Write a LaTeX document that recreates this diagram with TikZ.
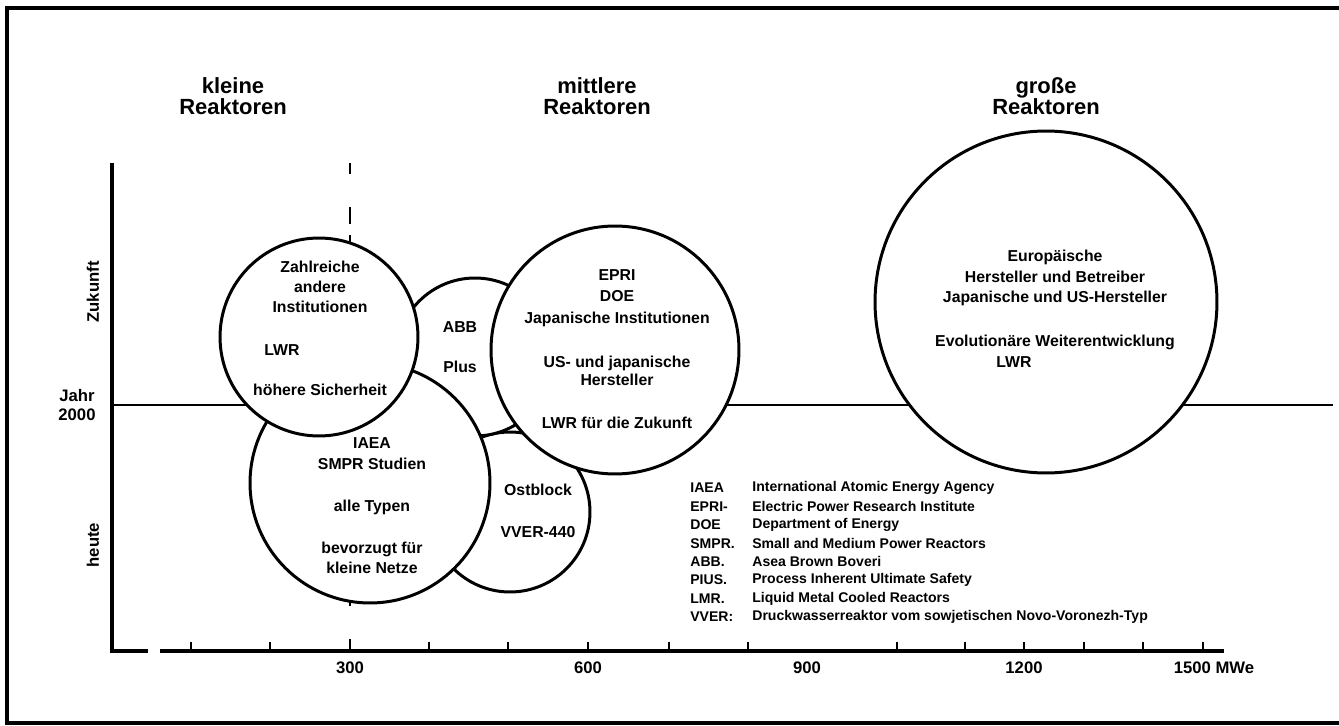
\documentclass[tikz,border=0pt]{standalone}
\usepackage{fontspec}
\setmainfont{Liberation Sans}
\usepackage{tikz}

\tikzset{
  reaktor/.style={circle, draw, fill=white, line width=1.7pt, inner sep=0pt},
  kreistext/.style={font=\bfseries\fontsize{9}{11.5}\selectfont, align=center, inner sep=0pt},
  kopf/.style={font=\bfseries\fontsize{12.5}{12}\selectfont, align=center, inner sep=0pt},
  achstext/.style={font=\bfseries\fontsize{9.5}{11}\selectfont, align=center, inner sep=0pt},
  legende/.style={font=\bfseries\fontsize{8}{9}\selectfont, anchor=west, inner sep=0pt},
}

\begin{document}
\begin{tikzpicture}[x=0.02cm, y=-0.02cm]
     \useasboundingbox (0,0) rectangle (1339,726);

     % Rahmen
     \coordinate (ro) at (1339,8);
     \coordinate (lo) at (7,8);
     \coordinate (lu) at (7,723);
     \coordinate (ru) at (1339,723);
     \draw[line width=2.2pt] (ro) -- (lo) -- (lu) -- (ru);

     % Achsen
     \coordinate (O) at (112,651);
     \coordinate (yoben) at (112,163);
     \coordinate (bruch1) at (148,651);
     \coordinate (bruch2) at (160,651);
     \coordinate (xende) at (1224,651);
     \draw[line width=2pt] (yoben) -- (O) -- (bruch1);
     \draw[line width=2pt] (bruch2) -- (xende);
     \foreach \x in {191,270,350,429,508,588,669,748,897,965,1024,1084,1143,1203}
        \draw[line width=1.4pt] (\x,651) -- ++(0,-9);

     % Jahr 2000 und 300 MWe
     \coordinate (j0) at (112,405);
     \coordinate (j1) at (1333,405);
     \draw[line width=1.4pt] (j0) -- (j1);
     \coordinate (m0) at (350,163);
     \coordinate (m1) at (350,651);
     \draw[line width=1pt, dash pattern=on 6pt off 19pt on 10pt off 6pt] (m0) -- (m1);

     % Kreise
     \node[reaktor, minimum size=3.2cm] (ost) at (510,512) {};
     \node[reaktor, minimum size=3.16cm] (abb) at (475,357) {};
     \node[reaktor, minimum size=4.8cm] (iaea) at (370,483) {};
     \node[reaktor, minimum size=3.96cm] (zahl) at (319,337) {};
     \node[reaktor, minimum size=4.96cm] (epri) at (615,350) {};
     \node[reaktor, minimum size=6.84cm] (gross) at (1046,302) {};

     % Texte in den Kreisen
     \node[kreistext, font=\bfseries\fontsize{9}{11.3}\selectfont] (t1) at (320,287) {Zahlreiche\\andere\\Institutionen};
     \node[kreistext] (t2) at (282,350) {LWR};
     \node[kreistext] (t3) at (320,390) {höhere Sicherheit};
     \node[kreistext] (t4) at (460,327) {ABB};
     \node[kreistext] (t5) at (460,367) {Plus};
     \node[kreistext, font=\bfseries\fontsize{9}{12.2}\selectfont] (t6) at (617,298) {EPRI\\DOE\\Japanische Institutionen};
     \node[kreistext, font=\bfseries\fontsize{9}{10.2}\selectfont] (t7) at (617,371) {US- und japanische\\Hersteller};
     \node[kreistext] (t8) at (617,423) {LWR für die Zukunft};
     \node[kreistext, font=\bfseries\fontsize{9}{11.9}\selectfont] (t9) at (1055,278) {Europäische\\Hersteller und Betreiber\\Japanische und US-Hersteller};
     \node[kreistext] (t10) at (1055,342) {Evolutionäre Weiterentwicklung};
     \node[kreistext] (t11) at (1014,362) {LWR};
     \node[kreistext, font=\bfseries\fontsize{9}{11.9}\selectfont] (t12) at (372,454) {IAEA\\SMPR Studien};
     \node[kreistext] (t13) at (372,507) {alle Typen};
     \node[kreistext, font=\bfseries\fontsize{9}{11.3}\selectfont] (t14) at (372,558) {bevorzugt für\\kleine Netze};
     \node[kreistext] (t15) at (538,490) {Ostblock};
     \node[kreistext] (t16) at (538,532) {VVER-440};

     % Kopfzeilen
     \node[kopf] (klein) at (233,96) {kleine\\Reaktoren};
     \node[kopf] (mittel) at (597,96) {mittlere\\Reaktoren};
     \node[kopf] (gross-k) at (1046,96) {große\\Reaktoren};

     % Achsenbeschriftung
     \node[achstext, rotate=90] (zuk) at (93,292) {Zukunft};
     \node[achstext] (jahr) at (77,405) {Jahr\\2000};
     \node[achstext, rotate=90] (heute) at (93,545) {heute};
     \node[achstext] (x300) at (350,668) {300};
     \node[achstext] (x600) at (588,668) {600};
     \node[achstext] (x900) at (807,668) {900};
     \node[achstext] (x1200) at (1024,668) {1200};
     \node[achstext] (x1500) at (1214,668) {1500 MWe};

     % Legende
     \foreach \abk/\lang [count=\i] in {IAEA/International Atomic Energy Agency,
        EPRI-/Electric Power Research Institute,
        DOE/Department of Energy,
        SMPR./Small and Medium Power Reactors,
        ABB./Asea Brown Boveri,
        PIUS./Process Inherent Ultimate Safety,
        LMR./Liquid Metal Cooled Reactors,
        VVER:/Druckwasserreaktor vom sowjetischen Novo-Voronezh-Typ}
     {
        \node[legende] (abk\i) at (690,{488+18.4*(\i-1)}) {\abk};
        \node[legende] (lang\i) at (752,{488+18.4*(\i-1)}) {\lang};
     }
\end{tikzpicture}
\end{document}
